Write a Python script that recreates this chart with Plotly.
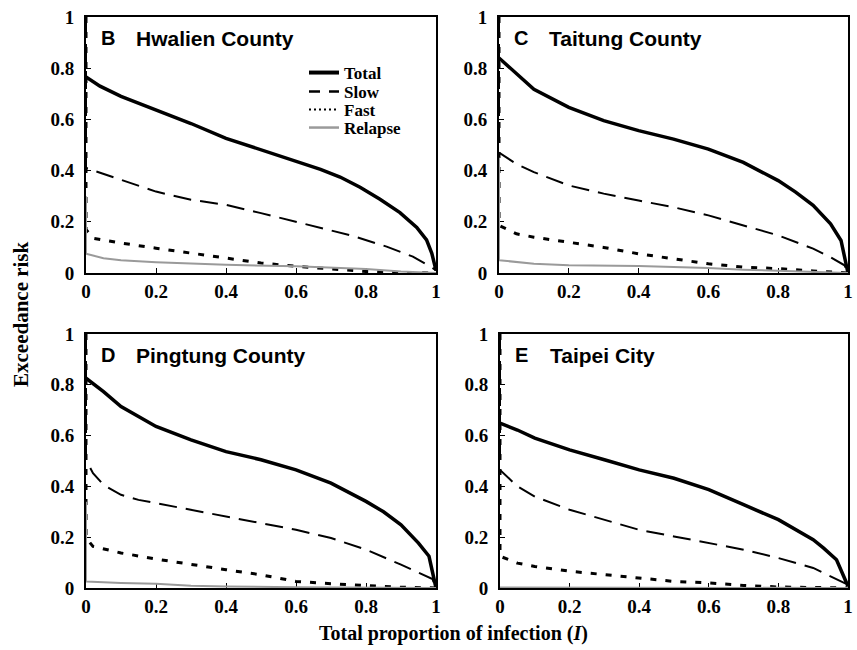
import plotly.graph_objects as go

# ---------------- data ----------------
x_b = [0, 0.04, 0.1, 0.2, 0.3, 0.4, 0.5, 0.6, 0.67, 0.726, 0.783, 0.84, 0.897, 0.945, 0.973, 0.988, 1.0]
total_b = [0.766, 0.73, 0.69, 0.636, 0.584, 0.526, 0.48, 0.435, 0.405, 0.375, 0.335, 0.288, 0.236, 0.178, 0.129, 0.077, 0.01]
x_b2 = [0, 0.1, 0.2, 0.3, 0.4, 0.5, 0.6, 0.67, 0.754, 0.859, 0.934, 0.99, 1.0]
slow_b = [0.41, 0.364, 0.318, 0.286, 0.266, 0.234, 0.2, 0.178, 0.148, 0.103, 0.064, 0.02, 0.01]
x_b3 = [0, 0.02, 0.1, 0.2, 0.3, 0.4, 0.5, 0.6, 0.7, 0.8, 0.9, 1.0]
fast_b = [0.17, 0.136, 0.117, 0.097, 0.078, 0.058, 0.039, 0.026, 0.016, 0.006, 0.002, 0.0]
x_b4 = [0, 0.05, 0.1, 0.2, 0.4, 0.6, 0.7, 0.8, 0.9, 1.0]
relapse_b = [0.075, 0.058, 0.05, 0.042, 0.032, 0.026, 0.022, 0.016, 0.006, 0.0]
relapse_top_b = 0.30

x_c = [0, 0.05, 0.1, 0.2, 0.3, 0.4, 0.5, 0.6, 0.7, 0.8, 0.85, 0.9, 0.95, 0.98, 1.0]
total_c = [0.84, 0.777, 0.718, 0.647, 0.595, 0.556, 0.523, 0.484, 0.432, 0.361, 0.316, 0.264, 0.192, 0.127, 0.0]
x_c2 = [0, 0.05, 0.1, 0.2, 0.3, 0.4, 0.5, 0.6, 0.7, 0.8, 0.9, 0.95, 0.99, 1.0]
slow_c = [0.47, 0.426, 0.394, 0.342, 0.31, 0.283, 0.257, 0.225, 0.186, 0.147, 0.095, 0.062, 0.03, 0.0]
x_c3 = [0, 0.05, 0.1, 0.2, 0.3, 0.4, 0.5, 0.6, 0.7, 0.8, 0.9, 1.0]
fast_c = [0.186, 0.153, 0.14, 0.12, 0.10, 0.075, 0.056, 0.036, 0.023, 0.017, 0.008, 0.0]
x_c4 = [0, 0.1, 0.2, 0.4, 0.6, 0.7, 0.8, 0.9, 1.0]
relapse_c = [0.05, 0.036, 0.03, 0.027, 0.02, 0.013, 0.008, 0.003, 0.0]
relapse_top_c = 0.45

x_d = [0, 0.05, 0.1, 0.2, 0.3, 0.4, 0.5, 0.6, 0.7, 0.8, 0.85, 0.9, 0.95, 0.98, 1.0]
total_d = [0.826, 0.773, 0.714, 0.636, 0.583, 0.537, 0.505, 0.465, 0.413, 0.341, 0.30, 0.249, 0.177, 0.125, 0.0]
x_d2 = [0, 0.02, 0.05, 0.1, 0.15, 0.2, 0.3, 0.4, 0.5, 0.6, 0.7, 0.8, 0.9, 0.95, 0.99, 1.0]
slow_d = [0.505, 0.452, 0.406, 0.367, 0.347, 0.334, 0.308, 0.282, 0.256, 0.229, 0.197, 0.151, 0.092, 0.059, 0.035, 0.0]
x_d3 = [0, 0.02, 0.1, 0.2, 0.3, 0.4, 0.5, 0.6, 0.7, 0.8, 0.9, 1.0]
fast_d = [0.197, 0.164, 0.138, 0.114, 0.092, 0.072, 0.052, 0.026, 0.017, 0.01, 0.003, 0.0]
x_d4 = [0, 0.1, 0.2, 0.3, 0.4, 0.6, 1.0]
relapse_d = [0.026, 0.02, 0.017, 0.009, 0.006, 0.003, 0.0]
relapse_top_d = 0.34

x_e = [0, 0.05, 0.1, 0.2, 0.3, 0.4, 0.5, 0.6, 0.7, 0.8, 0.9, 0.93, 0.967, 1.0]
total_e = [0.649, 0.622, 0.59, 0.544, 0.505, 0.465, 0.432, 0.387, 0.328, 0.269, 0.19, 0.157, 0.111, 0.007]
x_e2 = [0, 0.05, 0.1, 0.2, 0.3, 0.4, 0.5, 0.6, 0.7, 0.8, 0.9, 1.0]
slow_e = [0.465, 0.40, 0.36, 0.308, 0.269, 0.229, 0.203, 0.177, 0.151, 0.118, 0.079, 0.013]
x_e3 = [0, 0.05, 0.1, 0.2, 0.3, 0.4, 0.5, 0.6, 0.7, 0.8, 1.0]
fast_e = [0.125, 0.098, 0.085, 0.066, 0.052, 0.039, 0.026, 0.02, 0.01, 0.004, 0.0]
x_e4 = [0, 0.5, 1.0]
relapse_e = [0.002, 0.001, 0.0]
relapse_top_e = 0.002

panel_letters = ["B", "C", "D", "E"]
panel_names = ["Hwalien County", "Taitung County", "Pingtung County", "Taipei City"]
tick_vals = [0, 0.2, 0.4, 0.6, 0.8, 1]
tick_text = ["0", "0.2", "0.4", "0.6", "0.8", "1"]
series_names = ["Total", "Slow", "Fast", "Relapse"]

panels = [
    (x_b, total_b, x_b2, slow_b, x_b3, fast_b, x_b4, relapse_b, relapse_top_b),
    (x_c, total_c, x_c2, slow_c, x_c3, fast_c, x_c4, relapse_c, relapse_top_c),
    (x_d, total_d, x_d2, slow_d, x_d3, fast_d, x_d4, relapse_d, relapse_top_d),
    (x_e, total_e, x_e2, slow_e, x_e3, fast_e, x_e4, relapse_e, relapse_top_e),
]

# ---------------- styling ----------------
W, H = 857, 650
SERIF = "Liberation Serif, Times New Roman, serif"
SANS = "Liberation Sans, Arial, sans-serif"
styles = [
    dict(color="black", width=3.5, dash="solid"),
    dict(color="black", width=2, dash="18px,9px"),
    dict(color="black", width=3, dash="6px,9px"),
    dict(color="#9a9a9a", width=2, dash="solid"),
]
legend_styles = [
    dict(color="black", width=4, dash="solid"),
    dict(color="black", width=2.5, dash="11px,9px"),
    dict(color="black", width=2, dash="2px,3px"),
    dict(color="#9a9a9a", width=2.5, dash="solid"),
]
legend_keys = ["legend", "legend2", "legend3", "legend4"]
legend_y = [73, 92, 110, 128]  # pixel centre of each legend row

# plot areas in pixels: (left, right, top, bottom)
boxes = [(86, 436, 17, 273), (499, 848, 17, 273), (86, 436, 334, 588), (500, 848, 334, 588)]

fig = go.Figure()
layout = dict(
    width=W, height=H, margin=dict(l=0, r=0, t=0, b=0, autoexpand=False),
    plot_bgcolor="white", paper_bgcolor="white",
    showlegend=True,
)
for k, key in enumerate(legend_keys):
    layout[key] = dict(
        x=304 / W, y=1 - legend_y[k] / H, xanchor="left", yanchor="middle",
        bgcolor="rgba(0,0,0,0)", font=dict(family=SERIF, size=17, color="black"),
        itemwidth=30, borderwidth=0,
    )

annotations = []
for i, (p, box) in enumerate(zip(panels, boxes)):
    sfx = "" if i == 0 else str(i + 1)
    xa, ya = "x" + sfx, "y" + sfx
    l, r, t, b = box
    axis_common = dict(
        range=[0, 1], showgrid=False, zeroline=False, showline=True, mirror=True,
        linecolor="black", linewidth=2, ticks="inside", ticklen=5, tickwidth=1,
        tickcolor="black", tickvals=tick_vals,
        ticktext=["<b>" + s + "</b>" for s in tick_text],
        tickfont=dict(family=SERIF, size=19, color="black"), layer="below traces",
        automargin=False, fixedrange=True,
    )
    layout["xaxis" + sfx] = dict(axis_common, domain=[l / W, r / W], anchor=ya)
    layout["yaxis" + sfx] = dict(axis_common, domain=[1 - b / H, 1 - t / H], anchor=xa,
                                 ticklabelstandoff=6)
    xt, yt, xs, ys, xf, yf, xr, yr, rtop = p
    data = [
        (xt, yt),
        ([0] + xs, [1] + ys),
        ([0] + xf, [1] + yf),
        ([0] + xr, [rtop] + yr),
    ]
    for k, (xx, yy) in enumerate(data):
        fig.add_trace(go.Scatter(
            x=xx, y=yy, mode="lines", name=series_names[k], line=styles[k],
            xaxis=xa, yaxis=ya, showlegend=False, hoverinfo="skip",
        ))
        if i == 0:
            # legend entry (drawn with the legend's own symbol style)
            fig.add_trace(go.Scatter(
                x=[None], y=[None], mode="lines", name="<b>" + series_names[k] + "</b>",
                line=legend_styles[k], xaxis=xa, yaxis=ya, showlegend=True,
                legend=legend_keys[k], hoverinfo="skip",
            ))
    annotations.append(dict(
        x=13 / (r - l), y=1 - 21 / (b - t), xref=xa + " domain", yref=ya + " domain",
        text="<b>" + panel_letters[i] + "</b>", showarrow=False, xanchor="left", yanchor="middle",
        font=dict(family=SANS, size=20, color="black"),
    ))
    annotations.append(dict(
        x=48 / (r - l), y=1 - 21 / (b - t), xref=xa + " domain", yref=ya + " domain",
        text="<b>" + panel_names[i] + "</b>", showarrow=False, xanchor="left", yanchor="middle",
        font=dict(family=SANS, size=21, color="black"),
    ))

annotations.append(dict(
    x=21 / W, y=1 - 314 / H, xref="paper", yref="paper", text="<b>Exceedance risk</b>",
    textangle=-90, showarrow=False, xanchor="center", yanchor="middle",
    font=dict(family=SERIF, size=21, color="black"),
))
annotations.append(dict(
    x=453 / W, y=1 - 633 / H, xref="paper", yref="paper",
    text="<b>Total proportion of infection (<i>I</i>)</b>",
    showarrow=False, xanchor="center", yanchor="middle",
    font=dict(family=SERIF, size=20, color="black"),
))
layout["annotations"] = annotations
fig.update_layout(**layout)
fig.write_html("out.html")
